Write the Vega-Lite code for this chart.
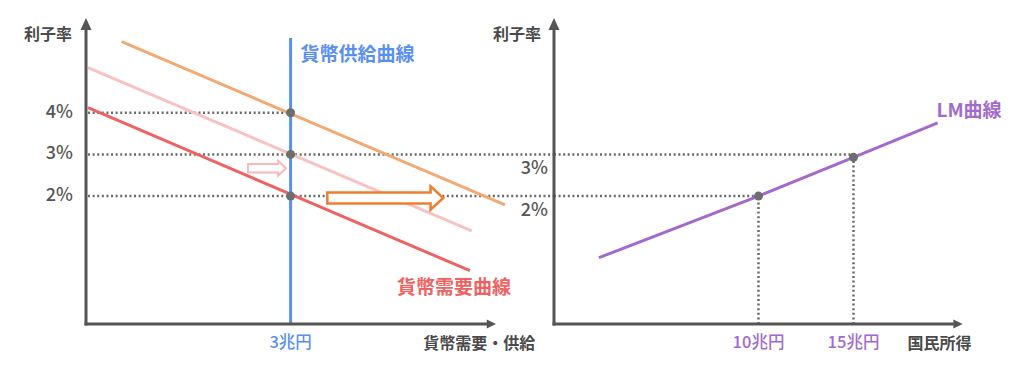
{
  "$schema": "https://vega.github.io/schema/vega-lite/v6.json",
  "width": 938,
  "height": 306,
  "autosize": "none",
  "padding": {"left": 86, "top": 18, "right": 0, "bottom": 43},
  "background": "white",
  "config": {"view": {"stroke": null}, "text": {"font": "Noto Sans CJK JP"}},
  "layer": [
    {
      "encoding": {
        "x": {"field": "money", "type": "quantitative", "scale": {"domain": [0, 13.754], "nice": false, "zero": false}, "axis": null},
        "y": {"field": "rate", "type": "quantitative", "scale": {"domain": [-1.0713, 6.2756], "nice": false, "zero": false}, "axis": null}
      },
      "layer": [
        {
          "data": {"values": [
            {"rate": 4, "money": 0.03, "money2": 3},
            {"rate": 3, "money": 0.03, "money2": 6.862},
            {"rate": 2, "money": 0.03, "money2": 6.862}
          ]},
          "mark": {"type": "rule", "color": "#6A6A6A", "strokeWidth": 2.5, "strokeDash": [2, 2.6]},
          "encoding": {"x2": {"field": "money2"}}
        },
        {
          "data": {"values": [
            {"curve": "当初の貨幣需要", "money": 0.029, "rate": 4.122},
            {"curve": "当初の貨幣需要", "money": 5.63, "rate": 0.208},
            {"curve": "中間の貨幣需要", "money": 0.029, "rate": 5.082},
            {"curve": "中間の貨幣需要", "money": 5.655, "rate": 1.162},
            {"curve": "増加後の貨幣需要", "money": 0.5235, "rate": 5.707},
            {"curve": "増加後の貨幣需要", "money": 6.144, "rate": 1.786}
          ]},
          "mark": {"type": "line", "strokeWidth": 3, "strokeCap": "butt"},
          "encoding": {
            "color": {"field": "curve", "type": "nominal", "scale": {"domain": ["増加後の貨幣需要", "中間の貨幣需要", "当初の貨幣需要"], "range": ["#F2AA74", "#F9C2C2", "#EF6262"]}, "legend": null},
            "detail": {"field": "curve"}
          }
        },
        {
          "data": {"values": [{"money": 3, "rate": -1.0713, "rate2": 5.795}]},
          "mark": {"type": "rule", "color": "#5B8FEF", "strokeWidth": 3},
          "encoding": {"y2": {"field": "rate2"}}
        },
        {
          "data": {"values": [
            {"money": 0, "rate": -1.0713, "money2": 0, "rate2": 6.0115},
            {"money": 0, "rate": -1.0713, "money2": 5.88, "rate2": -1.0713}
          ]},
          "mark": {"type": "rule", "color": "#555555", "strokeWidth": 3, "strokeCap": "square"},
          "encoding": {"x2": {"field": "money2"}, "y2": {"field": "rate2"}}
        },
        {
          "data": {"values": [{"money": 0, "rate": 6.1316}]},
          "mark": {"type": "point", "shape": "M0,-1L0.917,1L-0.917,1Z", "size": 144, "filled": true, "color": "#555555", "opacity": 1}
        },
        {
          "data": {"values": [{"money": 5.944, "rate": -1.0713}]},
          "mark": {"type": "point", "shape": "M1,0L-1,0.97L-1,-0.97Z", "size": 86.5, "filled": true, "color": "#555555", "opacity": 1}
        },
        {
          "data": {"values": [{"money": 3, "rate": 4}, {"money": 3, "rate": 3}, {"money": 3, "rate": 2}]},
          "mark": {"type": "point", "filled": true, "size": 80, "color": "#6E6E6E", "opacity": 1}
        },
        {
          "data": {"values": [{"money": 2.654, "rate": 2.669}]},
          "mark": {"type": "point", "shape": "M-1,-0.22L0.58,-0.22L0.58,-0.395L1,0L0.58,0.395L0.58,0.22L-1,0.22Z", "size": 1444, "filled": false, "fill": "white", "fillOpacity": 1, "stroke": "#F8B9B9", "strokeWidth": 2, "opacity": 1}
        },
        {
          "data": {"values": [{"money": 4.389, "rate": 1.954}]},
          "mark": {"type": "point", "shape": "M-1,-0.095L0.78,-0.095L0.78,-0.2L1,0L0.78,0.2L0.78,0.095L-1,0.095Z", "size": 13456, "filled": false, "fill": "white", "fillOpacity": 1, "stroke": "#EE7D2E", "strokeWidth": 2.5, "opacity": 1}
        },
        {
          "data": {"values": [{"money": 0, "rate": 4, "label": "4%"}, {"money": 0, "rate": 3, "label": "3%"}, {"money": 0, "rate": 2, "label": "2%"}]},
          "mark": {"type": "text", "align": "right", "baseline": "middle", "dx": -13, "fontSize": 18, "fontWeight": 500, "color": "#555555"},
          "encoding": {"text": {"field": "label"}}
        },
        {
          "data": {"values": [{"money": 0, "rate": 5.867, "label": "利子率"}]},
          "mark": {"type": "text", "align": "right", "baseline": "middle", "dx": -14, "fontSize": 16, "fontWeight": "bold", "color": "#4A4A4A"},
          "encoding": {"text": {"field": "label"}}
        },
        {
          "data": {"values": [{"money": 3, "rate": -1.0713, "label": "3兆円"}]},
          "mark": {"type": "text", "align": "center", "baseline": "middle", "dy": 19, "fontSize": 16.5, "fontWeight": 500, "color": "#5B8FEF"},
          "encoding": {"text": {"field": "label"}}
        },
        {
          "data": {"values": [{"money": 5.765, "rate": -1.0713, "label": "貨幣需要・供給"}]},
          "mark": {"type": "text", "align": "center", "baseline": "middle", "dy": 19.5, "fontSize": 16, "fontWeight": "bold", "color": "#4A4A4A"},
          "encoding": {"text": {"field": "label"}}
        },
        {
          "data": {"values": [{"money": 3, "rate": 5.387, "label": "貨幣供給曲線"}]},
          "mark": {"type": "text", "align": "left", "baseline": "middle", "dx": 10, "fontSize": 19, "fontWeight": "bold", "color": "#5B8FEF"},
          "encoding": {"text": {"field": "label"}}
        },
        {
          "data": {"values": [{"money": 5.396, "rate": -0.207, "label": "貨幣需要曲線"}]},
          "mark": {"type": "text", "align": "center", "baseline": "middle", "fontSize": 19, "fontWeight": "bold", "color": "#EF6262"},
          "encoding": {"text": {"field": "label"}}
        }
      ]
    },
    {
      "encoding": {
        "x": {"field": "income", "type": "quantitative", "scale": {"domain": [-25.395, 23.974], "nice": false, "zero": false}, "axis": null},
        "y": {"field": "rate", "type": "quantitative", "scale": {"domain": [-1.0713, 6.2756], "nice": false, "zero": false}, "axis": null}
      },
      "layer": [
        {
          "data": {"values": [
            {"rate": 3, "income": -0.763, "income2": 15},
            {"rate": 2, "income": -0.763, "income2": 10}
          ]},
          "mark": {"type": "rule", "color": "#6A6A6A", "strokeWidth": 2.5, "strokeDash": [2, 2.6]},
          "encoding": {"x2": {"field": "income2"}}
        },
        {
          "data": {"values": [
            {"income": 10, "rate": -1.0713, "rate2": 2},
            {"income": 15, "rate": -1.0713, "rate2": 2.93}
          ]},
          "mark": {"type": "rule", "color": "#6A6A6A", "strokeWidth": 2.5, "strokeDash": [2, 2.6]},
          "encoding": {"y2": {"field": "rate2"}}
        },
        {
          "data": {"values": [
            {"income": 1.6, "rate": 0.52},
            {"income": 10, "rate": 2},
            {"income": 15, "rate": 2.93},
            {"income": 19.43, "rate": 3.76}
          ]},
          "mark": {"type": "line", "color": "#A26BCB", "strokeWidth": 3, "strokeCap": "butt"}
        },
        {
          "data": {"values": [
            {"income": -0.763, "rate": -1.0713, "income2": -0.763, "rate2": 6.0115},
            {"income": -0.763, "rate": -1.0713, "income2": 20.29, "rate2": -1.0713}
          ]},
          "mark": {"type": "rule", "color": "#555555", "strokeWidth": 3, "strokeCap": "square"},
          "encoding": {"x2": {"field": "income2"}, "y2": {"field": "rate2"}}
        },
        {
          "data": {"values": [{"income": -0.763, "rate": 6.1316}]},
          "mark": {"type": "point", "shape": "M0,-1L0.917,1L-0.917,1Z", "size": 144, "filled": true, "color": "#555555", "opacity": 1}
        },
        {
          "data": {"values": [{"income": 20.5, "rate": -1.0713}]},
          "mark": {"type": "point", "shape": "M1,0L-1,0.97L-1,-0.97Z", "size": 86.5, "filled": true, "color": "#555555", "opacity": 1}
        },
        {
          "data": {"values": [{"income": 10, "rate": 2}, {"income": 15, "rate": 2.93}]},
          "mark": {"type": "point", "filled": true, "size": 80, "color": "#6E6E6E", "opacity": 1}
        },
        {
          "data": {"values": [{"income": -0.763, "rate": 3, "label": "3%"}, {"income": -0.763, "rate": 2, "label": "2%"}]},
          "mark": {"type": "text", "align": "right", "baseline": "middle", "dx": -6, "dy": 14.5, "fontSize": 18, "fontWeight": 500, "color": "#555555"},
          "encoding": {"text": {"field": "label"}}
        },
        {
          "data": {"values": [{"income": -0.763, "rate": 5.867, "label": "利子率"}]},
          "mark": {"type": "text", "align": "right", "baseline": "middle", "dx": -13, "fontSize": 16, "fontWeight": "bold", "color": "#4A4A4A"},
          "encoding": {"text": {"field": "label"}}
        },
        {
          "data": {"values": [{"income": 10, "rate": -1.0713, "label": "10兆円"}, {"income": 15, "rate": -1.0713, "label": "15兆円"}]},
          "mark": {"type": "text", "align": "center", "baseline": "middle", "dy": 19, "fontSize": 16.5, "fontWeight": 500, "color": "#A26BCB"},
          "encoding": {"text": {"field": "label"}}
        },
        {
          "data": {"values": [{"income": 19.526, "rate": -1.0713, "label": "国民所得"}]},
          "mark": {"type": "text", "align": "center", "baseline": "middle", "dy": 19.5, "fontSize": 16, "fontWeight": "bold", "color": "#4A4A4A"},
          "encoding": {"text": {"field": "label"}}
        },
        {
          "data": {"values": [{"income": 21.08, "rate": 4.043, "label": "LM曲線"}]},
          "mark": {"type": "text", "align": "center", "baseline": "middle", "fontSize": 19, "fontWeight": "bold", "color": "#A26BCB"},
          "encoding": {"text": {"field": "label"}}
        }
      ]
    }
  ],
  "resolve": {"scale": {"x": "independent"}}
}
